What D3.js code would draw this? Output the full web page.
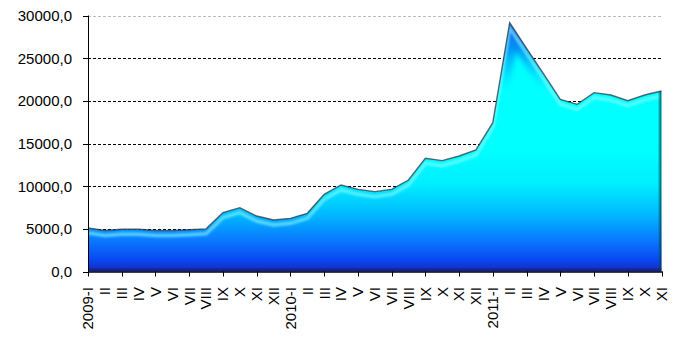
<!DOCTYPE html>
<html><head><meta charset="utf-8">
<script src="https://cdn.jsdelivr.net/npm/d3@7"></script>
<style>
html,body{margin:0;padding:0;background:#fff;}
svg{display:block;}
text{font-family:"Liberation Sans",Arial,sans-serif;fill:#000;}
</style></head>
<body>
<svg id="c" width="677" height="338"></svg>
<script>
const categories = ["2009-I","II","III","IV","V","VI","VII","VIII","IX","X","XI","XII",
  "2010-I","II","III","IV","V","VI","VII","VIII","IX","X","XI","XII",
  "2011-I","II","III","IV","V","VI","VII","VIII","IX","X","XI"];
const values = [5100,4800,4950,4950,4800,4800,4900,5000,6900,7480,6500,6030,
  6230,6820,9050,10140,9630,9360,9630,10720,13260,12990,13540,14240,
  17440,29160,26150,23180,20180,19590,20960,20680,20020,20680,21150];
const yTicks = [0,5000,10000,15000,20000,25000,30000];
const yTickLabels = ["0,0","5000,0","10000,0","15000,0","20000,0","25000,0","30000,0"];

(function(){
const svg = d3.select("#c");
const pl = 88, pr = 661.5, pt = 15.5, pb = 271.5;
const x = d3.scalePoint().domain(d3.range(categories.length)).range([pl, pr]);
const y = d3.scaleLinear().domain([0, 30000]).range([pb, pt]);

const defs = svg.append("defs");
const g = defs.append("linearGradient").attr("id","fillGrad")
  .attr("gradientUnits","userSpaceOnUse").attr("x1",0).attr("x2",0).attr("y1",pt).attr("y2",pb);
[[0,"#00ffff"],[0.52,"#00ffff"],[0.66,"#00eeff"],[0.78,"#00b8ff"],[0.88,"#0a78ff"],[0.96,"#0a44f0"],[1,"#1a28b0"]]
  .forEach(([o,c]) => g.append("stop").attr("offset",o).attr("stop-color",c));
const pk = defs.append("linearGradient").attr("id","peakGrad")
  .attr("gradientUnits","userSpaceOnUse").attr("x1",0).attr("x2",0).attr("y1",pt).attr("y2",90);
pk.append("stop").attr("offset",0).attr("stop-color","#0a30e0").attr("stop-opacity",0.95);
pk.append("stop").attr("offset",0.45).attr("stop-color","#0a50f0").attr("stop-opacity",0.6);
pk.append("stop").attr("offset",1).attr("stop-color","#00a0ff").attr("stop-opacity",0);
const rg = defs.append("linearGradient").attr("id","rightGrad").attr("x1",0).attr("x2",1).attr("y1",0).attr("y2",0);
rg.append("stop").attr("offset",0).attr("stop-color","#006070").attr("stop-opacity",0);
rg.append("stop").attr("offset",1).attr("stop-color","#003848").attr("stop-opacity",0.95);
defs.append("filter").attr("id","blur1").append("feGaussianBlur").attr("stdDeviation",1.2);
defs.append("filter").attr("id","blur05").append("feGaussianBlur").attr("stdDeviation",0.5);
defs.append("filter").attr("id","blur3").append("feGaussianBlur").attr("stdDeviation",2.5);

const area = d3.area().x((d,i)=>x(i)).y0(pb).y1(d=>y(d));
const line = d3.line().x((d,i)=>x(i)).y(d=>y(d));
defs.append("clipPath").attr("id","areaClip").append("path").attr("d", area(values));

svg.append("g").selectAll("line").data(yTicks.slice(1)).join("line")
  .attr("x1",pl).attr("x2",pr).attr("y1",d=>Math.round(y(d))+0.5).attr("y2",d=>Math.round(y(d))+0.5)
  .attr("stroke",d=>d===30000?"#bdbdbd":"#000").attr("stroke-width",1).attr("stroke-dasharray","3,2");

svg.append("path").attr("d", area(values)).attr("fill","url(#fillGrad)");
const inner = svg.append("g").attr("clip-path","url(#areaClip)");
inner.append("path").attr("d", line(values)).attr("fill","none")
  .attr("stroke","url(#peakGrad)").attr("stroke-width",22).attr("filter","url(#blur3)");
inner.append("path").attr("d", line(values)).attr("transform","translate(0,5)").attr("fill","none")
  .attr("stroke","#8ffcff").attr("stroke-opacity",0.6).attr("stroke-width",3.5).attr("filter","url(#blur1)");
inner.append("rect").attr("x",pr-4).attr("y",pt).attr("width",4).attr("height",pb-pt).attr("fill","url(#rightGrad)");
inner.append("rect").attr("x",pl).attr("y",pb-3).attr("width",pr-pl).attr("height",3).attr("fill","#101c80").attr("opacity",0.6);
svg.append("path").attr("d", line(values)).attr("fill","none")
  .attr("stroke","#2a3a4a").attr("stroke-opacity",0.75).attr("stroke-width",1.4).attr("filter","url(#blur05)");

const ax = svg.append("g");
ax.append("line").attr("x1",pl+0.5).attr("x2",pl+0.5).attr("y1",pt).attr("y2",pb+1).attr("stroke","#000");
ax.append("line").attr("x1",pl).attr("x2",pr+1).attr("y1",pb+0.5).attr("y2",pb+0.5).attr("stroke","#000").attr("stroke-width",1.5);
ax.selectAll(".yt").data(yTicks).join("line").attr("class","yt")
  .attr("x1",pl-5).attr("x2",pl).attr("y1",d=>Math.round(y(d))+0.5).attr("y2",d=>Math.round(y(d))+0.5).attr("stroke","#000");
ax.selectAll(".yl").data(yTicks).join("text").attr("class","yl")
  .attr("x",72).attr("y",d=>y(d)).attr("dy","0.36em").attr("text-anchor","end")
  .style("font-size","15px").text((d,i)=>yTickLabels[i]);
ax.selectAll(".xt").data(d3.range(0,categories.length,2)).join("line").attr("class","xt")
  .attr("x1",d=>Math.round(x(d))+0.5).attr("x2",d=>Math.round(x(d))+0.5).attr("y1",pb).attr("y2",pb+5).attr("stroke","#000");
ax.selectAll(".xl").data(categories).join("text").attr("class","xl")
  .attr("transform",(d,i)=>`translate(${x(i)},287) rotate(-90)`)
  .attr("dy","0.36em").attr("text-anchor","end").style("font-size","15px").text(d=>d);
})();
</script>
</body></html>
